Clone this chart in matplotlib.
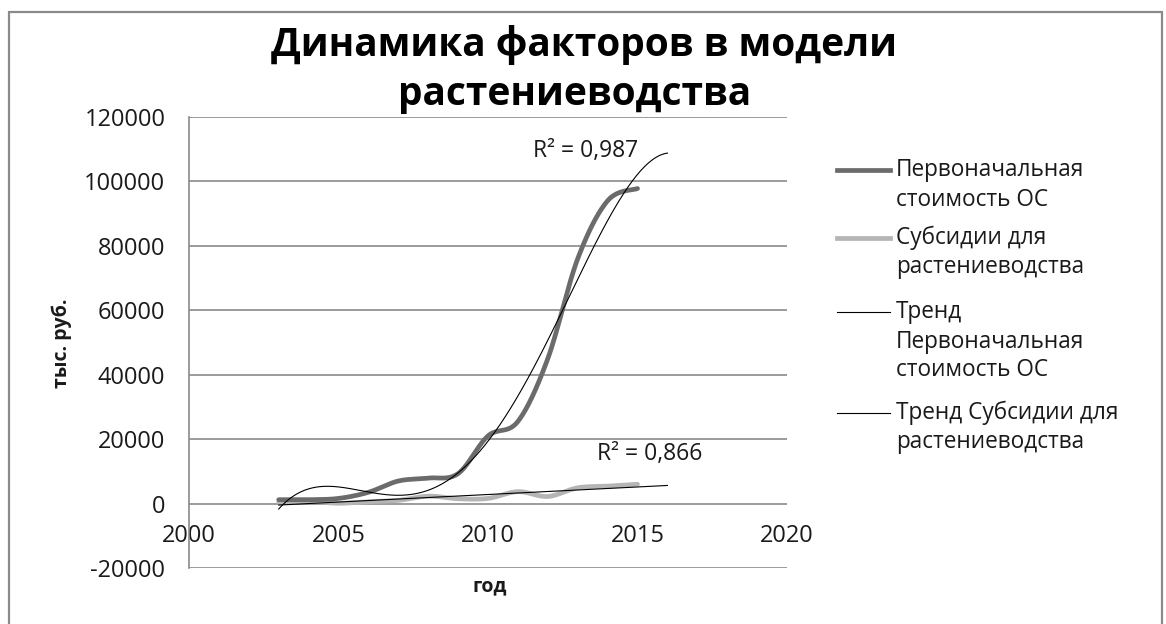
import numpy as np
import matplotlib
matplotlib.use("Agg")
import matplotlib.pyplot as plt
from matplotlib.lines import Line2D
from matplotlib.patches import Rectangle

plt.rcParams['font.family'] = ['Open Sans', 'DejaVu Sans']

# ---- data ----
years = [2003, 2004, 2005, 2006, 2007, 2008, 2009, 2010, 2011, 2012, 2013, 2014, 2015]
fixed_assets = [1200, 1200, 1600, 3500, 7000, 7900, 9300, 21000, 25500, 45000, 76000, 94000, 97800]
subsidies = [500, 700, 100, 600, 1000, 2300, 1500, 1600, 3700, 2200, 4900, 5400, 6000]

series_names = ["Первоначальная\nстоимость ОС", "Субсидии для\nрастениеводства"]
trend_names = ["Тренд\nПервоначальная\nстоимость ОС", "Тренд Субсидии для\nрастениеводства"]
r2_labels = ["R² = 0,987", "R² = 0,866"]
x_ticks = [2000, 2005, 2010, 2015, 2020]
y_ticks = [-20000, 0, 20000, 40000, 60000, 80000, 100000, 120000]

title = "Динамика факторов в модели\nрастениеводства"
x_label = "год"
y_label = "тыс. руб."

FA_DEG = 4        # polynomial trend order for fixed assets
SUB_DEG = 1       # linear trend for subsidies
FORECAST = 1      # years projected forward by trend lines

W, H = 1166, 624
DARK = "#6b6b6b"
LIGHT = "#b5b5b5"
GRID = "#8a8a8a"
TXT = "#1a1a1a"


def smooth(x, y, n=40):
    """Cardinal (Catmull-Rom) Bezier smoothing through every point."""
    p = np.column_stack([x, y]).astype(float)
    out = [p[0:1]]
    t = np.linspace(0, 1, n)[1:, None]
    for i in range(len(p) - 1):
        p0 = p[i - 1] if i > 0 else p[i]
        p1, p2 = p[i], p[i + 1]
        p3 = p[i + 2] if i + 2 < len(p) else p[i + 1]
        c1 = p1 + (p2 - p0) / 6.0
        c2 = p2 - (p3 - p1) / 6.0
        seg = ((1 - t) ** 3) * p1 + 3 * ((1 - t) ** 2) * t * c1 + 3 * (1 - t) * t ** 2 * c2 + t ** 3 * p2
        out.append(seg)
    pts = np.vstack(out)
    return pts[:, 0], pts[:, 1]


def trend(x, y, deg):
    x = np.asarray(x, float)
    x0 = x.mean()
    coef = np.polyfit(x - x0, np.asarray(y, float), deg)
    xs = np.linspace(x[0], x[-1] + FORECAST, 300)
    return xs, np.polyval(coef, xs - x0)


def fx(px):
    return px / W


def fy(py):
    return 1 - py / H


fig = plt.figure(figsize=(W / 100, H / 100), dpi=100)
fig.patch.set_facecolor("white")

# outer chart frame
fig.patches.append(Rectangle((fx(9), fy(640)), fx(1162) - fx(9), fy(12) - fy(640),
                             transform=fig.transFigure, fill=False,
                             edgecolor=GRID, linewidth=1.6, zorder=0))

ax = fig.add_axes([fx(189), fy(568), fx(787) - fx(189), fy(117) - fy(568)])

ax.set_xlim(2000, 2020)
ax.set_ylim(-20000, 120000)
ax.set_yticks(y_ticks)
ax.set_xticks(x_ticks)
ax.set_yticklabels([str(v) for v in y_ticks])
ax.set_xticklabels([str(v) for v in x_ticks])
ax.grid(axis="y", color=GRID, linewidth=1.2)
ax.set_axisbelow(True)

for s in ("top", "right"):
    ax.spines[s].set_visible(False)
ax.spines["left"].set_color(GRID)
ax.spines["left"].set_linewidth(1.2)
ax.spines["bottom"].set_position(("data", 0))
ax.spines["bottom"].set_visible(False)
ax.tick_params(axis="both", length=0, labelsize=17, colors=TXT)
ax.tick_params(axis="y", pad=17)
ax.tick_params(axis="x", pad=15)

# data series (smoothed)
sx, sy = smooth(years, fixed_assets)
ax.plot(sx, sy, color=DARK, linewidth=3.4, solid_capstyle="round", zorder=3)
sx, sy = smooth(years, subsidies)
ax.plot(sx, sy, color=LIGHT, linewidth=3.4, solid_capstyle="round", zorder=2)

# trend lines
tx, ty = trend(years, fixed_assets, FA_DEG)
ax.plot(tx, ty, color="black", linewidth=0.8, zorder=4)
tx, ty = trend(years, subsidies, SUB_DEG)
ax.plot(tx, ty, color="black", linewidth=0.8, zorder=4)

ax.text(2011.5, 109300, r2_labels[0], fontsize=16.5, color=TXT, va="center", ha="left")
ax.text(2013.65, 15300, r2_labels[1], fontsize=16.5, color=TXT, va="center", ha="left")

# axis titles
fig.text(fx(62), fy(343), y_label, rotation=90, fontsize=14, fontweight="bold",
         color=TXT, ha="center", va="center")
fig.text(fx(490), fy(586), x_label, fontsize=14, fontweight="bold",
         color=TXT, ha="center", va="center")

# chart title
fig.text(fx(584), fy(45), title.split("\n")[0], fontsize=28, fontweight="bold",
         color="black", ha="center", va="center")
fig.text(fx(575), fy(95), title.split("\n")[1], fontsize=28, fontweight="bold",
         color="black", ha="center", va="center")

# legend: marker line at the first text row, each text row placed on its own
legend_rows = [
    (series_names[0], DARK, 3.4, [170, 200]),
    (series_names[1], LIGHT, 3.4, [238, 267]),
    (trend_names[0], "black", 0.8, [312, 342, 370]),
    (trend_names[1], "black", 0.8, [413, 442]),
]
for label, col, lw, rows in legend_rows:
    fig.add_artist(Line2D([fx(837), fx(890)], [fy(rows[0]), fy(rows[0])], color=col,
                          linewidth=lw, transform=fig.transFigure))
    for text_row, py in zip(label.split("\n"), rows):
        fig.text(fx(896), fy(py), text_row, fontsize=16.3, color=TXT,
                 ha="left", va="center")

fig.savefig("out.png", dpi=100, facecolor="white")
